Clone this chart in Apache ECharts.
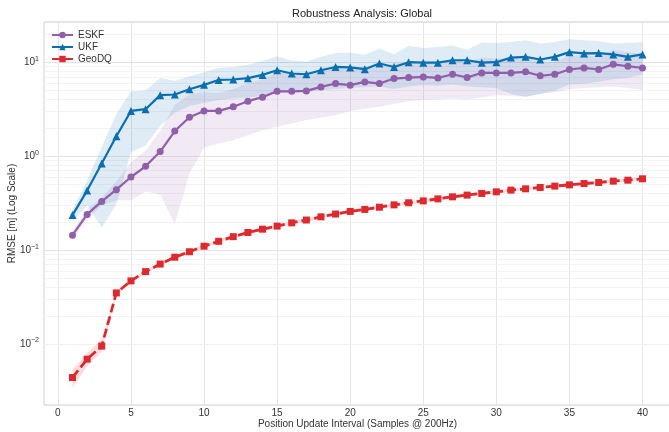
<!DOCTYPE html>
<html><head><meta charset="utf-8">
<script src="https://cdn.jsdelivr.net/npm/echarts@6/dist/echarts.min.js"></script>
<style>html,body{margin:0;padding:0;background:#fff}#c{width:669px;height:432px}</style>
</head><body><div id="c"></div><script>
// ---- data ----
const intervals = [1,2,3,4,5,6,7,8,9,10,11,12,13,14,15,16,17,18,19,20,21,22,23,24,25,26,27,28,29,30,31,32,33,34,35,36,37,38,39,40];

const eskf = [0.144,0.24,0.33,0.44,0.60,0.78,1.12,1.85,2.6,3.03,3.03,3.35,3.85,4.25,4.9,4.9,4.95,5.46,5.93,5.7,6.17,5.93,6.7,6.87,6.98,6.8,7.45,6.87,7.7,7.7,7.7,7.9,7.17,7.45,8.36,8.7,8.36,9.5,9.06,8.7];
const eskfLower = [0.128,0.21,0.30,0.34,0.34,0.42,0.39,0.19,0.65,1.24,1.36,1.48,1.67,1.89,2.05,2.23,2.42,2.58,2.73,3.0,3.2,3.35,3.6,3.85,3.95,4.0,4.1,4.0,4.2,4.45,4.4,4.3,4.6,4.8,5.15,5.3,5.4,5.5,5.3,5.05];
const eskfUpper = [0.16,0.27,0.36,0.54,0.86,1.14,1.86,3.5,4.55,4.8,4.7,5.2,6.0,6.6,7.75,7.55,7.5,8.35,9.1,8.4,9.1,8.5,9.8,9.9,10.0,9.6,10.8,9.7,11.2,10.95,11.0,11.5,9.75,10.1,11.6,12.1,11.3,13.5,12.8,12.35];

const ukf = [0.236,0.43,0.836,1.63,3.03,3.16,4.46,4.53,5.16,5.74,6.48,6.55,6.76,7.33,8.22,7.58,7.45,8.22,8.9,8.8,8.43,9.68,8.9,10.0,9.9,9.9,10.5,10.5,9.9,10.0,11.2,11.4,10.7,11.4,12.8,12.4,12.5,12.1,11.4,12.1];
const ukfLower = [0.2,0.3,0.173,0.31,1.1,1.3,2.1,2.9,3.4,3.7,3.95,4.1,4.2,4.4,4.8,4.8,4.8,5.0,5.2,5.3,5.4,5.5,5.2,5.5,5.7,5.6,5.8,5.5,5.4,5.3,4.6,4.3,4.6,5.0,5.8,5.9,6.2,6.6,6.8,7.4];
const ukfUpper = [0.27,0.55,1.25,2.8,4.9,5.0,6.8,6.3,7.1,7.8,8.7,8.9,9.4,10.3,11.6,10.4,10.1,11.4,12.5,12.6,12.0,14.0,12.2,15.0,14.2,14.5,15.1,13.6,16.2,16.0,16.4,17.1,15.8,16.4,17.6,17.1,16.8,15.8,16.0,16.4];

const geodq = [0.0044,0.0069,0.0095,0.035,0.047,0.059,0.071,0.084,0.096,0.110,0.124,0.139,0.154,0.167,0.180,0.195,0.209,0.226,0.242,0.258,0.271,0.286,0.303,0.319,0.334,0.351,0.369,0.385,0.401,0.417,0.435,0.449,0.464,0.480,0.495,0.511,0.525,0.542,0.555,0.574];
const geodqLower = [0.0034,0.0058,0.0083,0.0335,0.045,0.0565,0.068,0.0805,0.092,0.105,0.119,0.133,0.148,0.160,0.173,0.187,0.200,0.217,0.232,0.247,0.260,0.274,0.291,0.306,0.320,0.337,0.354,0.369,0.385,0.400,0.417,0.431,0.445,0.461,0.475,0.490,0.504,0.520,0.533,0.551];
const geodqUpper = [0.0053,0.0080,0.0113,0.0365,0.049,0.0615,0.074,0.0875,0.100,0.115,0.129,0.145,0.160,0.174,0.187,0.203,0.218,0.235,0.252,0.269,0.282,0.298,0.315,0.332,0.348,0.365,0.384,0.401,0.417,0.434,0.453,0.467,0.483,0.499,0.515,0.532,0.546,0.564,0.577,0.597];

const xTicks = [0,5,10,15,20,25,30,35,40];
const yMinorTicks = [0.003,0.004,0.005,0.006,0.007,0.008,0.009,0.02,0.03,0.04,0.05,0.06,0.07,0.08,0.09,0.2,0.3,0.4,0.5,0.6,0.7,0.8,0.9,2,3,4,5,6,7,8,9,20];

const seriesNames = ['ESKF','UKF','GeoDQ'];
// ---- end data ----

const FONT = 'Liberation Sans, Arial, sans-serif';
const colors = {ESKF:'#8f5fa9', UKF:'#0a6fb0', GeoDQ:'#dd2a2f'};

function pairs(ys){ return intervals.map((x,i)=>[x, ys[i]]); }

function band(name, lower, upper, color, opacity){
  return {
    type:'custom', name: name+' band', z:2, silent:true, clip:true,
    data: intervals.map((x,i)=>[x, lower[i], upper[i]]),
    encode:{x:0, y:[1,2]},
    renderItem: function(params, api){
      if (params.dataIndex !== 0) return;
      const pts = [];
      for (let i=0;i<intervals.length;i++) pts.push(api.coord([intervals[i], upper[i]]));
      for (let i=intervals.length-1;i>=0;i--) pts.push(api.coord([intervals[i], lower[i]]));
      return {type:'polygon', shape:{points:pts}, style:{fill:color, opacity:opacity}};
    }
  };
}

const chart = echarts.init(document.getElementById('c'), null, {renderer:'canvas'});
chart.setOption({
  animation:false,
  backgroundColor:'#fff',
  textStyle:{fontFamily:FONT},
  title:{text:'Robustness Analysis: Global', left:357, top:3, textAlign:'center',
    textStyle:{fontFamily:FONT, fontSize:11, fontWeight:'normal', color:'#222'}},
  grid:{left:44, right:-2, top:22, bottom:27, show:true, borderColor:'#d0d0d0', borderWidth:1,
    backgroundColor:'transparent', containLabel:false, outerBoundsMode:'none'},
  legend:{
    data: seriesNames, orient:'vertical', left:46, top:25, itemWidth:21, itemHeight:8, itemGap:2,
    textStyle:{fontFamily:FONT, fontSize:10, color:'#333'}
  },
  xAxis:{
    type:'value', min:-0.95, max:41.95,
    name:'Position Update Interval (Samples @ 200Hz)', nameLocation:'middle', nameGap:14, nameMoveOverlap:false,
    nameTextStyle:{fontFamily:FONT, fontSize:10, color:'#333'},
    axisLine:{show:false}, axisTick:{show:false}, splitLine:{show:false},
    axisLabel:{customValues:xTicks, fontSize:10, color:'#333', margin:3, fontFamily:FONT}
  },
  yAxis:{
    type:'log', logBase:10, min:0.002244, max:26.8,
    name:'RMSE [m] (Log Scale)', nameLocation:'middle', nameGap:27, nameRotate:90, nameMoveOverlap:false,
    nameTextStyle:{fontFamily:FONT, fontSize:10, color:'#333'},
    axisLine:{show:false}, axisTick:{show:false},
    splitLine:{show:true, lineStyle:{color:'#e3e3e3', width:1}},
    axisLabel:{
      margin:5, color:'#333', fontFamily:FONT,
      formatter:function(v){
        const l = Math.log10(v), e = Math.round(l);
        if (Math.abs(l-e) > 1e-6) return '';
        return '{b|10}{s|' + (e<0 ? '\u2212'+(-e) : String(e)) + '}';
      },
      rich:{ b:{fontSize:10, color:'#333', fontFamily:FONT}, s:{fontSize:7, color:'#333', fontFamily:FONT, padding:[0,0,7,0]} }
    }
  },
  series:[
    {
      type:'line', name:'gridlines', data:[], silent:true, z:1,
      markLine:{
        silent:true, symbol:['none','none'], z:1, animation:false,
        label:{show:false},
        emphasis:{disabled:true},
        data: xTicks.map(v=>({xAxis:v, lineStyle:{color:'#e6e6e6', width:1, type:'solid'}}))
          .concat(yMinorTicks.map(v=>({yAxis:v, lineStyle:{color:'#f0f0f0', width:0.8, type:'solid'}})))
      }
    },
    band('ESKF', eskfLower, eskfUpper, colors.ESKF, 0.13),
    band('UKF', ukfLower, ukfUpper, colors.UKF, 0.13),
    band('GeoDQ', geodqLower, geodqUpper, colors.GeoDQ, 0.16),
    {
      type:'line', name:'ESKF', data:pairs(eskf), z:4,
      symbol:'circle', symbolSize:7, showAllSymbol:true,
      lineStyle:{color:colors.ESKF, width:2.2}, itemStyle:{color:colors.ESKF}
    },
    {
      type:'line', name:'UKF', data:pairs(ukf), z:4,
      symbol:'triangle', symbolSize:8, showAllSymbol:true,
      lineStyle:{color:colors.UKF, width:2.2}, itemStyle:{color:colors.UKF}
    },
    {
      type:'line', name:'GeoDQ', data:pairs(geodq), z:4,
      symbol:'rect', symbolSize:7, showAllSymbol:true,
      lineStyle:{color:colors.GeoDQ, width:2.8, type:[9,4]}, itemStyle:{color:colors.GeoDQ}
    }
  ]
});
</script></body></html>
